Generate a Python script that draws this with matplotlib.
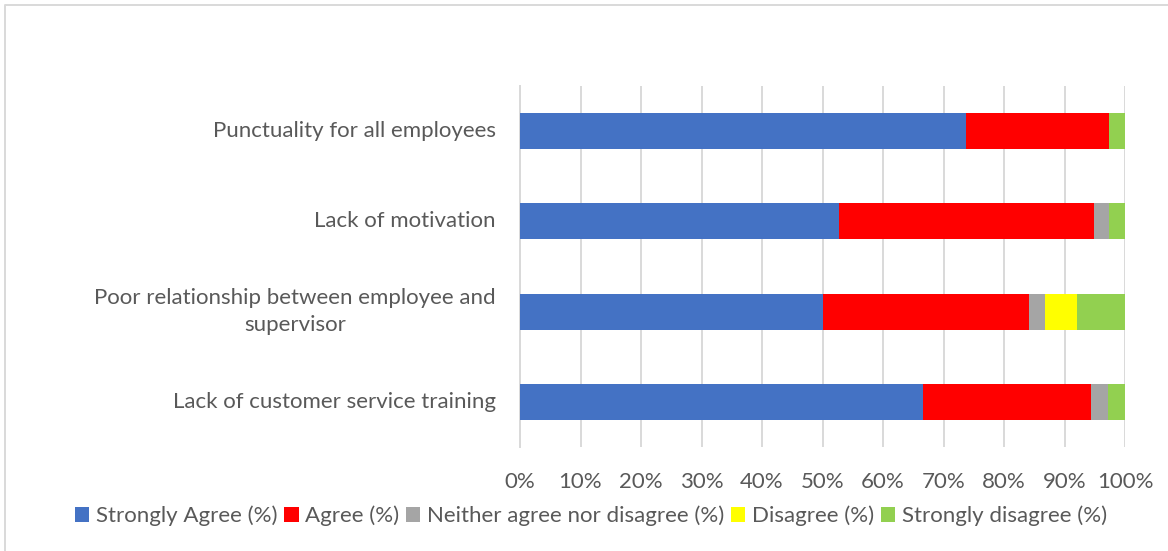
import matplotlib.pyplot as plt
import matplotlib.transforms as mtransforms
import numpy as np
from matplotlib.lines import Line2D

# Survey responses per statement (%)
statements = [
    'Punctuality for all employees',
    'Lack of motivation',
    'Poor relationship between employee and\nsupervisor',
    'Lack of customer service training',
]
strongly_agree = [73.7, 52.6, 50.0, 66.7]
agree = [23.7, 42.1, 34.2, 27.8]
neither = [0.0, 2.6, 2.6, 2.8]
disagree = [0.0, 0.0, 5.3, 0.0]
strongly_disagree = [2.6, 2.6, 7.9, 2.8]

series = [
    ('Strongly Agree (%)', strongly_agree, '#4472C4'),
    ('Agree (%)', agree, '#FF0000'),
    ('Neither agree nor disagree (%)', neither, '#A5A5A5'),
    ('Disagree (%)', disagree, '#FFFF00'),
    ('Strongly disagree (%)', strongly_disagree, '#92D050'),
]

plt.rcParams['font.family'] = ['Lato', 'DejaVu Sans']
text_col = '#595959'
grid_col = '#D9D9D9'
fsize = 16

fig = plt.figure(figsize=(11.68, 5.51), dpi=100)
ax = fig.add_axes([520 / 1168, 1 - 447 / 551, 605 / 1168, 361 / 551])

# 100% stacked bars
totals = np.sum([s[1] for s in series], axis=0)
y = np.arange(len(statements))
left = np.zeros(len(statements))
for name, vals, col in series:
    share = np.array(vals) / totals * 100
    ax.barh(y, share, left=left, height=0.4, color=col, label=name, zorder=3)
    left += share

ax.set_xlim(0, 100)
ax.set_ylim(3.5, -0.5)
ax.set_xticks(np.arange(0, 101, 10))
ax.set_xticklabels([f'{v}%' for v in range(0, 101, 10)])
ax.set_yticks(y)
ax.set_yticklabels([])
ax.tick_params(axis='both', length=0, labelsize=fsize, colors=text_col)
ax.tick_params(axis='x', pad=18)

# category labels: lines centred, block right-aligned next to the axis
fig.canvas.draw()
renderer = fig.canvas.get_renderer()
trans = mtransforms.blended_transform_factory(ax.transAxes, ax.transData)
for yy, name in zip(y, statements):
    t = ax.text(0, yy, name, transform=trans, ha='center', va='center',
                multialignment='center', fontsize=fsize, color=text_col,
                linespacing=1.45)
    w = t.get_window_extent(renderer).width
    t.set_x(-(24 + w / 2) / 605)

ax.grid(axis='x', color=grid_col, linewidth=1.4, zorder=0)
for s in ['top', 'right', 'bottom']:
    ax.spines[s].set_visible(False)
ax.spines['left'].set_color(grid_col)
ax.spines['left'].set_linewidth(1.4)

fig.legend(loc='center', bbox_to_anchor=(591 / 1168, 1 - 516 / 551), ncol=5,
           frameon=False, fontsize=fsize, labelcolor=text_col,
           handlelength=0.65, handleheight=0.65, handletextpad=0.3,
           columnspacing=0.3, borderpad=0)

# chart border
fig.add_artist(Line2D([5 / 1168, 5 / 1168, 1], [0, 1 - 5 / 551, 1 - 5 / 551],
                      transform=fig.transFigure, color=grid_col, linewidth=1.4))

fig.savefig('out.png', dpi=100)
